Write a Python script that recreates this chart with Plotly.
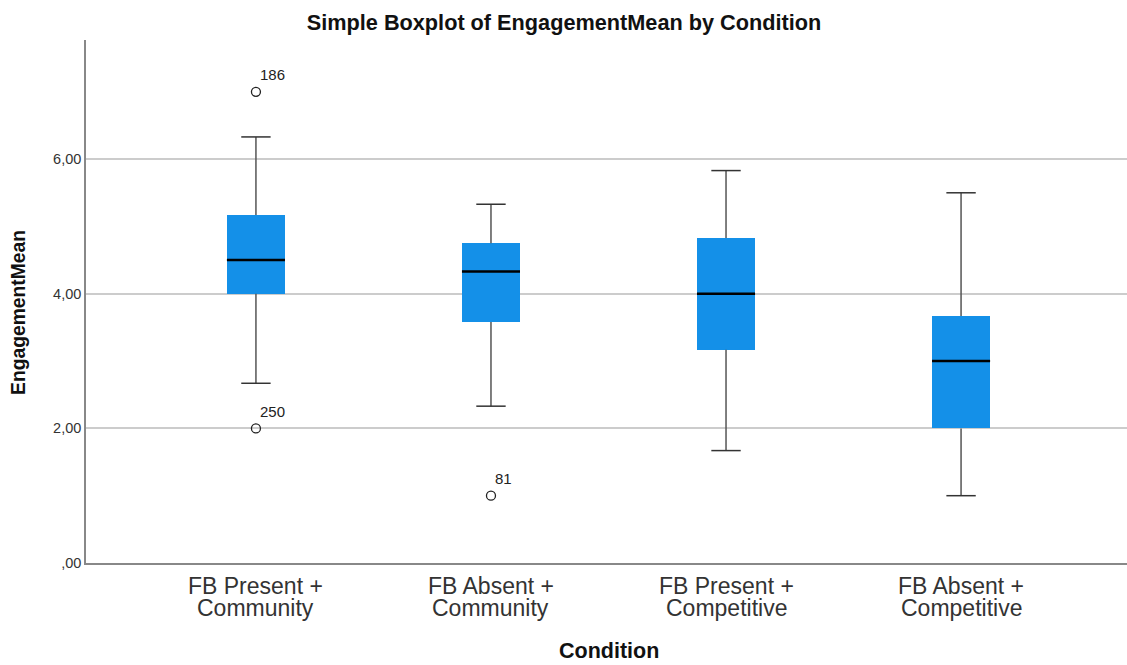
import plotly.graph_objects as go

cat_line1 = ["FB Present +", "FB Absent +", "FB Present +", "FB Absent +"]
cat_line2 = ["Community", "Community", "Competitive", "Competitive"]
lower_whisker = [2.67, 2.33, 1.67, 1.00]
q1 = [4.00, 3.58, 3.17, 2.00]
median = [4.50, 4.33, 4.00, 3.00]
q3 = [5.17, 4.75, 4.83, 3.67]
upper_whisker = [6.33, 5.33, 5.83, 5.50]
outlier_cat = [0, 0, 1]
outlier_val = [7.00, 2.00, 1.00]
outlier_id = ["186", "250", "81"]
y_ticks = [0, 2, 4, 6]
y_tick_labels = [",00", "2,00", "4,00", "6,00"]

FONT = "Liberation Sans, Arial"
xs = list(range(len(cat_line1)))
box_w = 0.247
cap_w = 0.125
grey = "#555555"

W, H = 1127, 665

fig = go.Figure()

fig.add_trace(go.Bar(x=xs, y=[b - a for a, b in zip(q1, q3)], base=q1, width=box_w,
                     marker=dict(color="#1490E8", line=dict(width=0)), showlegend=False,
                     hoverinfo="skip"))

for i in xs:
    fig.add_trace(go.Scatter(x=[i, i], y=[q3[i], upper_whisker[i]], mode="lines",
                             line=dict(color=grey, width=1.5), showlegend=False))
    fig.add_trace(go.Scatter(x=[i, i], y=[lower_whisker[i], q1[i]], mode="lines",
                             line=dict(color=grey, width=1.5), showlegend=False))
    for v in (upper_whisker[i], lower_whisker[i]):
        fig.add_trace(go.Scatter(x=[i - cap_w / 2, i + cap_w / 2], y=[v, v], mode="lines",
                                 line=dict(color="#333333", width=1.5), showlegend=False))
    fig.add_trace(go.Scatter(x=[i - box_w / 2, i + box_w / 2], y=[median[i], median[i]],
                             mode="lines", line=dict(color="black", width=2.5), showlegend=False))

fig.add_trace(go.Scatter(x=outlier_cat, y=outlier_val, mode="markers",
                         marker=dict(symbol="circle-open", size=9, color="#222",
                                     line=dict(width=1.3)),
                         showlegend=False))

annotations = []
for cx, cy, lab in zip(outlier_cat, outlier_val, outlier_id):
    annotations.append(dict(x=cx, y=cy, xref="x", yref="y", text=lab, showarrow=False,
                            xanchor="left", yanchor="middle", xshift=2, yshift=17,
                            font=dict(family=FONT, size=15, color="#222")))
for i in xs:
    annotations.append(dict(x=i, y=-0.044, xref="x", yref="paper", text=cat_line1[i],
                            showarrow=False, xanchor="center", yanchor="middle",
                            font=dict(family=FONT, size=23, color="#333")))
    annotations.append(dict(x=i, y=-0.086, xref="x", yref="paper", text=cat_line2[i],
                            showarrow=False, xanchor="center", yanchor="middle",
                            font=dict(family=FONT, size=23, color="#333")))
annotations.append(dict(x=0.5024, y=-0.168, xref="paper", yref="paper",
                        text="<b>Condition</b>", showarrow=False, xanchor="center",
                        yanchor="middle", font=dict(family=FONT, size=21.5, color="#111")))
annotations.append(dict(x=-0.0644, y=0.48, xref="paper", yref="paper",
                        text="<b>EngagementMean</b>", showarrow=False, textangle=-90,
                        xanchor="center", yanchor="middle",
                        font=dict(family=FONT, size=19.3, color="#111")))

fig.update_layout(
    width=W, height=H,
    margin=dict(l=86, r=0, t=40, b=102),
    paper_bgcolor="white", plot_bgcolor="white",
    font=dict(family=FONT, color="#333"),
    title=dict(text="<b>Simple Boxplot of EngagementMean by Condition</b>",
               x=564 / W, xanchor="center", y=1 - 22 / H, yanchor="middle",
               font=dict(size=21.7, color="#111")),
    xaxis=dict(range=[-0.723, 3.706], showticklabels=False, showgrid=False,
               zeroline=False, showline=True, linecolor="#888", linewidth=1.5,
               ticks="", automargin=False),
    yaxis=dict(range=[0, 7.77], tickvals=y_ticks, ticktext=y_tick_labels,
               tickfont=dict(size=14.5, color="#333"), showgrid=True, gridcolor="#cccccc",
               gridwidth=1.5, zeroline=False, showline=True, linecolor="#888",
               linewidth=1.5, ticks="", automargin=False),
    annotations=annotations,
    bargap=0,
)

fig.write_html("out.html", config={"displayModeBar": False},
               post_script="document.body.style.margin='0';document.body.style.overflow='hidden';")
